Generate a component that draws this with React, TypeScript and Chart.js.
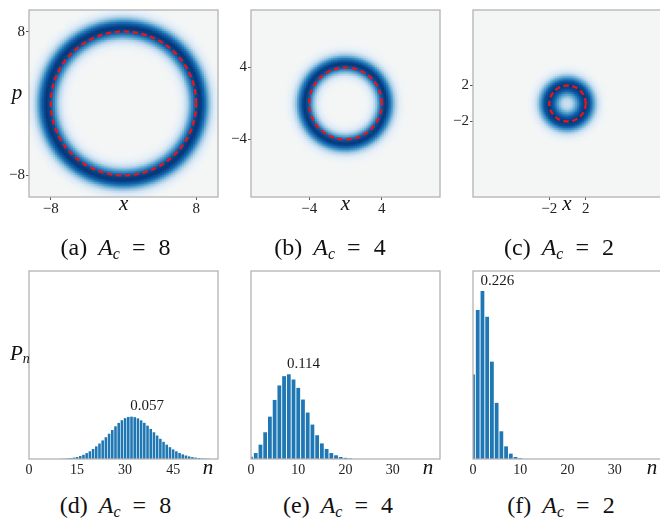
import React, { useEffect, useRef } from 'react';
import { Chart, registerables } from 'chart.js';

Chart.register(...registerables);

const FONT = '"Liberation Serif", "Times New Roman", serif';

// ---------- Top row: phase-space rings ----------
const ringRadii = [8, 4, 2];
const phaseTicks = [[-8, 8], [-4, 4], [-2, 2]];
const phaseLimit = 10.4;
// radial intensity profile (0..1 on the colour map), sampled at these radii
const profileR = [0, 0.5, 1, 1.5, 2, 2.5, 3, 3.5, 4, 4.5, 5, 5.5, 6, 6.5, 7, 7.5, 8, 8.5, 9, 9.5, 10, 10.5, 11, 11.5, 12];
const ringA8 = [0, 0, 0, 0, 0, 0, 0, 0, 0, 0, 0, 0, 0.02, 0.08, 0.27, 0.6, 0.9, 0.98, 0.78, 0.42, 0.15, 0.04, 0, 0, 0];
const ringA4 = [0, 0, 0, 0, 0, 0.03, 0.14, 0.45, 0.85, 0.98, 0.72, 0.33, 0.09, 0.02, 0, 0, 0, 0, 0, 0, 0, 0, 0, 0, 0];
const ringA2 = [0.2, 0.28, 0.55, 0.85, 0.98, 0.88, 0.52, 0.18, 0.04, 0, 0, 0, 0, 0, 0, 0, 0, 0, 0, 0, 0, 0, 0, 0, 0];
const ringProfiles = [ringA8, ringA4, ringA2];

// ---------- Bottom row: photon-number distributions ----------
const nTicks = [[0, 15, 30, 45], [0, 10, 20, 30], [0, 10, 20, 30]];
const nMax = [59, 40, 40];
const pMax = 0.253;
const pn8Start = 10;
const pn8 = [0.0003, 0.0005, 0.0008, 0.0012, 0.0018, 0.0027, 0.004, 0.0057, 0.0079, 0.0104, 0.0135, 0.017, 0.0208, 0.025, 0.0293, 0.034, 0.039, 0.044, 0.0485, 0.0522, 0.055, 0.0566, 0.057, 0.0563, 0.0547, 0.052, 0.0487, 0.0449, 0.0405, 0.036, 0.0316, 0.0272, 0.0231, 0.0193, 0.0159, 0.0129, 0.0103, 0.0081, 0.0062, 0.0047, 0.0035, 0.0026, 0.0019, 0.0013, 0.0009, 0.0006, 0.0004];
const pn4Start = 0;
const pn4 = [0.003, 0.008, 0.0193, 0.036, 0.057, 0.0795, 0.099, 0.1115, 0.114, 0.107, 0.0957, 0.08, 0.0625, 0.0463, 0.032, 0.021, 0.0135, 0.008, 0.005, 0.0027, 0.0015, 0.0007];
const pn2Start = 0;
const pn2 = [0.1137, 0.2004, 0.226, 0.1915, 0.131, 0.0755, 0.0373, 0.017, 0.0072, 0.0027, 0.001];
const pnSeries = [pn8, pn4, pn2];
const pnStarts = [pn8Start, pn4Start, pn2Start];

const captionLetters = ['a', 'b', 'c', 'd', 'e', 'f'];
const captionValues = [8, 4, 2, 8, 4, 2];

// colour map (matplotlib "Blues", low end set to the figure's background)
const bluesStops: [number, string][] = [
  [0, '#f4f6f6'], [0.125, '#deebf7'], [0.25, '#c6dbef'], [0.375, '#9ecae1'], [0.5, '#6baed6'],
  [0.625, '#4292c6'], [0.75, '#2171b5'], [0.875, '#08519c'], [1, '#08306b'],
];

function hexToRgb(h: string) {
  return [parseInt(h.slice(1, 3), 16), parseInt(h.slice(3, 5), 16), parseInt(h.slice(5, 7), 16)];
}
function blues(v: number) {
  v = Math.max(0, Math.min(1, v));
  for (let i = 1; i < bluesStops.length; i++) {
    const [p1, c1] = bluesStops[i];
    const [p0, c0] = bluesStops[i - 1];
    if (v <= p1) {
      const t = (v - p0) / (p1 - p0);
      const a = hexToRgb(c0), b = hexToRgb(c1);
      return `rgb(${Math.round(a[0] + (b[0] - a[0]) * t)},${Math.round(a[1] + (b[1] - a[1]) * t)},${Math.round(a[2] + (b[2] - a[2]) * t)})`;
    }
  }
  return bluesStops[bluesStops.length - 1][1];
}
function sampleProfile(profile: number[], r: number) {
  const last = profileR.length - 1;
  if (r >= profileR[last]) return profile[last];
  const step = profileR[1] - profileR[0];
  const i = Math.floor(r / step);
  const t = (r - profileR[i]) / step;
  return profile[i] * (1 - t) + profile[i + 1] * t;
}

const CELL = 0.2;
function buildCells(profile: number[]) {
  const cells: any[] = [];
  const n = Math.round(phaseLimit / CELL);
  for (let i = -n; i <= n; i++) {
    for (let j = -n; j <= n; j++) {
      const x = i * CELL, y = j * CELL;
      const v = sampleProfile(profile, Math.hypot(x, y));
      if (v < 0.004) continue;
      cells.push({ x, y, c: blues(v) });
    }
  }
  return cells;
}
function circlePoints(r: number) {
  const pts: any[] = [];
  for (let k = 0; k <= 200; k++) {
    const a = (2 * Math.PI * k) / 200;
    pts.push({ x: r * Math.cos(a), y: r * Math.sin(a) });
  }
  return pts;
}
const fmt = (v: any) => (Number(v) < 0 ? '\u2212' + Math.abs(Number(v)) : String(v));

const framePlugin = {
  id: 'frame',
  afterDraw(chart: any) {
    const { ctx, chartArea: a } = chart;
    ctx.save();
    ctx.strokeStyle = '#b3b3b3';
    ctx.lineWidth = 1.3;
    ctx.strokeRect(a.left, a.top, a.right - a.left, a.bottom - a.top);
    ctx.restore();
  },
};
const bgPlugin = {
  id: 'bgArea',
  beforeDatasetsDraw(chart: any) {
    const { ctx, chartArea: a } = chart;
    ctx.save();
    ctx.fillStyle = '#f4f6f6';
    ctx.fillRect(a.left, a.top, a.right - a.left, a.bottom - a.top);
    ctx.restore();
  },
};
const peakPlugin = {
  id: 'peakLabel',
  afterDatasetsDraw(chart: any) {
    const data = chart.data.datasets[0].data as any[];
    let best = data[0];
    for (const d of data) if (d.y > best.y) best = d;
    const { ctx, scales } = chart;
    const x = scales.x.getPixelForValue(best.x - 0.4);
    const y = scales.y.getPixelForValue(best.y) - 6.5;
    ctx.save();
    ctx.font = `15px ${FONT}`;
    ctx.fillStyle = '#1a1a1a';
    ctx.textAlign = 'left';
    ctx.textBaseline = 'alphabetic';
    ctx.fillText(best.y.toFixed(3), x, y);
    ctx.restore();
  },
};

function RingPanel({ idx, left }: { idx: number; left: number }) {
  const ref = useRef<HTMLCanvasElement>(null);
  useEffect(() => {
    const ticks = phaseTicks[idx];
    const tickCfg = {
      autoSkip: false, maxRotation: 0, color: '#222',
      font: { family: FONT, size: 15 }, callback: fmt,
    };
    const chart = new Chart(ref.current!, {
      type: 'scatter',
      data: {
        datasets: [
          {
            type: 'line', data: circlePoints(ringRadii[idx]), borderColor: '#e8161c', borderWidth: 2.3,
            borderDash: [5.5, 3.5], pointRadius: 0, fill: false, showLine: true, tension: 0, clip: 0, order: 0,
          } as any,
          {
            data: buildCells(ringProfiles[idx]), pointStyle: 'rect', showLine: false, clip: 0, order: 1,
            pointBorderWidth: 0,
            pointBackgroundColor: (c: any) => (c.raw ? c.raw.c : 'transparent'),
            pointRadius: (c: any) => {
              const s = c.chart.scales.x;
              const px = Math.abs(s.getPixelForValue(CELL) - s.getPixelForValue(0));
              return (px + 0.7) / Math.SQRT2;
            },
          } as any,
        ],
      },
      options: {
        animation: false, responsive: false, events: [],
        layout: { padding: { left: 0, top: 10, right: 2, bottom: 8 } },
        plugins: { legend: { display: false }, tooltip: { enabled: false } },
        scales: {
          x: {
            type: 'linear', min: -phaseLimit, max: phaseLimit,
            afterBuildTicks: (s: any) => { s.ticks = ticks.map((v) => ({ value: v })); },
            afterFit: (s: any) => { s.height = 20; },
            ticks: { ...tickCfg, padding: 0 },
            grid: { drawOnChartArea: false, tickLength: 3, color: '#555' },
            border: { display: false },
          },
          y: {
            type: 'linear', min: -phaseLimit, max: phaseLimit,
            afterBuildTicks: (s: any) => { s.ticks = ticks.map((v) => ({ value: v })); },
            afterFit: (s: any) => { s.width = 29; },
            ticks: { ...tickCfg, padding: 1 },
            grid: { drawOnChartArea: false, tickLength: 3, color: '#555' },
            border: { display: false },
          },
        },
      } as any,
      plugins: [bgPlugin, framePlugin],
    });
    return () => chart.destroy();
  }, [idx]);
  return <canvas ref={ref} width={220} height={225} style={{ position: 'absolute', left, top: 0 }} />;
}

function BarPanel({ idx, left }: { idx: number; left: number }) {
  const ref = useRef<HTMLCanvasElement>(null);
  useEffect(() => {
    const ticks = nTicks[idx];
    const start = pnStarts[idx];
    const pts = pnSeries[idx].map((v, i) => ({ x: start + i, y: v }));
    const chart = new Chart(ref.current!, {
      type: 'bar',
      data: {
        datasets: [{
          data: pts, backgroundColor: '#1f77b4', borderWidth: 0,
          barPercentage: 0.8, categoryPercentage: 1, clip: 0,
        } as any],
      },
      options: {
        animation: false, responsive: false, events: [],
        layout: { padding: { left: 29, top: 11, right: 2, bottom: 4 } },
        plugins: { legend: { display: false }, tooltip: { enabled: false } },
        scales: {
          x: {
            type: 'linear', min: 0, max: nMax[idx], offset: false,
            afterBuildTicks: (s: any) => { s.ticks = ticks.map((v) => ({ value: v })); },
            afterFit: (s: any) => { s.height = 22; },
            ticks: { autoSkip: false, maxRotation: 0, padding: 3, color: '#222', font: { family: FONT, size: 14 } },
            grid: { display: false, drawTicks: false, offset: false },
            border: { display: false },
          },
          y: { display: false, min: 0, max: pMax },
        },
      } as any,
      plugins: [framePlugin, peakPlugin],
    });
    return () => chart.destroy();
  }, [idx]);
  return <canvas ref={ref} width={220} height={225} style={{ position: 'absolute', left, top: 260 }} />;
}

function Label({ x, top, size, children, italic = true }: any) {
  return (
    <div style={{
      position: 'absolute', left: x, top, transform: 'translateX(-50%)', fontFamily: FONT,
      fontSize: size, lineHeight: 1, fontStyle: italic ? 'italic' : 'normal', whiteSpace: 'nowrap', color: '#111',
    }}>{children}</div>
  );
}

function Caption({ i, cx, baseline }: { i: number; cx: number; baseline: number }) {
  const fs = 24;
  return (
    <div style={{
      position: 'absolute', left: cx, top: baseline - 0.8375 * fs, transform: 'translateX(-50%)',
      fontFamily: FONT, fontSize: fs, lineHeight: 1, whiteSpace: 'nowrap', color: '#111',
    }}>
      <span>({captionLetters[i]})</span>
      <i style={{ marginLeft: 11 }}>A</i>
      <i style={{ fontSize: 16, position: 'relative', top: 4 }}>c</i>
      <span style={{ marginLeft: 12 }}>=</span>
      <span style={{ marginLeft: 13 }}>{captionValues[i]}</span>
    </div>
  );
}

export default function App() {
  const topLefts = [0, 222, 444];
  const xLabelCx = [123.7, 345.5, 567];
  const nLabelCx = [208, 428, 652];
  const topCapCx = [115.5, 330, 559];
  const botCapCx = [115.5, 338, 561];
  return (
    <div style={{ position: 'absolute', left: 0, top: 0, width: 660, height: 520, overflow: 'hidden', background: '#fff' }}>
      {topLefts.map((l, i) => <RingPanel key={'r' + i} idx={i} left={l} />)}
      {topLefts.map((l, i) => <BarPanel key={'b' + i} idx={i} left={l} />)}
      <Label x={17} top={96.7 - 0.71 * 21} size={21}>p</Label>
      {xLabelCx.map((x, i) => <Label key={'x' + i} x={x} top={205.5 - 0.61 * 21} size={21}>x</Label>)}
      {nLabelCx.map((x, i) => <Label key={'n' + i} x={x} top={469.5 - 0.61 * 21} size={21}>n</Label>)}
      <div style={{ position: 'absolute', left: 10, top: 361 - 0.8375 * 21, fontFamily: FONT, fontSize: 21, lineHeight: 1, fontStyle: 'italic', whiteSpace: 'nowrap', color: '#111' }}>
        P<span style={{ fontSize: 14, position: 'relative', top: 3 }}>n</span>
      </div>
      {topCapCx.map((cx, i) => <Caption key={'ct' + i} i={i} cx={cx} baseline={255} />)}
      {botCapCx.map((cx, i) => <Caption key={'cb' + i} i={i + 3} cx={cx} baseline={513} />)}
    </div>
  );
}
